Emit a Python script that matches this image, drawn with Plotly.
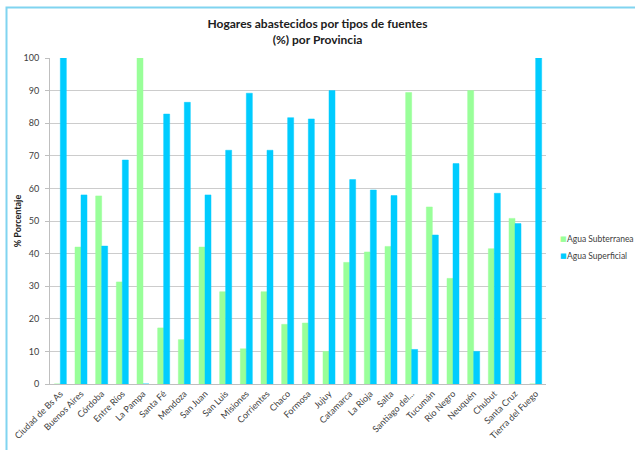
import plotly.graph_objects as go

provincias = ["Ciudad de Bs As", "Buenos Aires", "Córdoba", "Entre Ríos", "La Pampa",
              "Santa Fé", "Mendoza", "San Juan", "San Luis", "Misiones", "Corrientes",
              "Chaco", "Formosa", "Jujuy", "Catamarca", "La Rioja", "Salta",
              "Santiago del...", "Tucumán", "Río Negro", "Neuquén", "Chubut",
              "Santa Cruz", "Tierra del Fuego"]
agua_subterranea = [0, 42.0, 57.7, 31.3, 100, 17.2, 13.6, 42.0, 28.3, 10.8, 28.3,
                    18.3, 18.7, 10.0, 37.3, 40.5, 42.2, 89.4, 54.3, 32.4, 90.0, 41.5,
                    50.8, 0]
agua_superficial = [100, 58.0, 42.3, 68.7, 0, 82.8, 86.4, 58.0, 71.7, 89.2, 71.7,
                    81.7, 81.3, 90.0, 62.7, 59.5, 57.8, 10.6, 45.7, 67.6, 10.0, 58.5,
                    49.2, 100]
y_ticks = [0, 10, 20, 30, 40, 50, 60, 70, 80, 90, 100]
series_names = ["Agua Subterranea", "Agua Superficial"]
series_colors = ["#99ff99", "#00ccff"]

FONT = "Lato, 'Open Sans', sans-serif"

fig = go.Figure()
for name, vals, col in zip(series_names, [agua_subterranea, agua_superficial], series_colors):
    fig.add_trace(go.Bar(x=provincias, y=vals, name=name, showlegend=False,
                         marker=dict(color=col, line=dict(color=col, width=0.5))))

L, R, T, B = 50, 89, 58, 66
W, H = 635, 450
pw, ph = W - L - R, H - T - B

fig.update_layout(
    width=W, height=H,
    margin=dict(l=L, r=R, t=T, b=B, autoexpand=False),
    paper_bgcolor="white", plot_bgcolor="white",
    barmode="group", bargap=0.42, bargroupgap=0,
    font=dict(family=FONT, size=9, color="#404040"),
    title=dict(text="<b>Hogares abastecidos por tipos de fuentes<br>(%) por Provincia</b>",
               x=0.5, xref="container", xanchor="center", y=0.938, yanchor="top",
               font=dict(family=FONT, size=12, color="#202020")),
    xaxis=dict(tickangle=-45, showgrid=False, showline=True, linecolor="#bfbfbf",
               linewidth=1, ticks="", automargin=False,
               tickfont=dict(family=FONT, size=9, color="#404040")),
    yaxis=dict(range=[0, 100], tickvals=y_ticks, showgrid=True, gridcolor="#cccccc",
               gridwidth=1, showline=True, linecolor="#bfbfbf", ticks="outside",
               ticklen=4, tickcolor="#bfbfbf", zeroline=False, automargin=False,
               ticklabelstandoff=4,
               tickfont=dict(family=FONT, size=9, color="#404040"),
               title=dict(text="<b>% Porcentaje</b>", standoff=0,
                          font=dict(family=FONT, size=9, color="#202020"))),
)

# legend drawn as text: coloured square glyph + series name
for i, (name, col) in enumerate(zip(series_names, series_colors)):
    ypix = 239 + 17 * i
    yp = 1 - (ypix - T) / ph
    fig.add_annotation(xref="paper", yref="paper", x=(558 - L) / pw, y=yp,
                       xanchor="left", yanchor="middle", showarrow=False,
                       text="■", font=dict(family="DejaVu Sans", size=7, color=col))
    fig.add_annotation(xref="paper", yref="paper", x=(565 - L) / pw, y=yp,
                       xanchor="left", yanchor="middle", showarrow=False,
                       align="left", text=name,
                       font=dict(family=FONT, size=8.5, color="#404040"))

fig.add_shape(type="rect", xref="paper", yref="paper",
              x0=(6.5 - L) / pw, x1=(645 - L) / pw,
              y0=1 - (460 - T) / ph, y1=1 + (T - 7.5) / ph,
              line=dict(color="#80d4f0", width=2), fillcolor="rgba(0,0,0,0)", layer="below")

fig.write_html("out.html", config={"displayModeBar": False},
               post_script="document.body.style.margin='0px';document.body.style.overflow='hidden';")
